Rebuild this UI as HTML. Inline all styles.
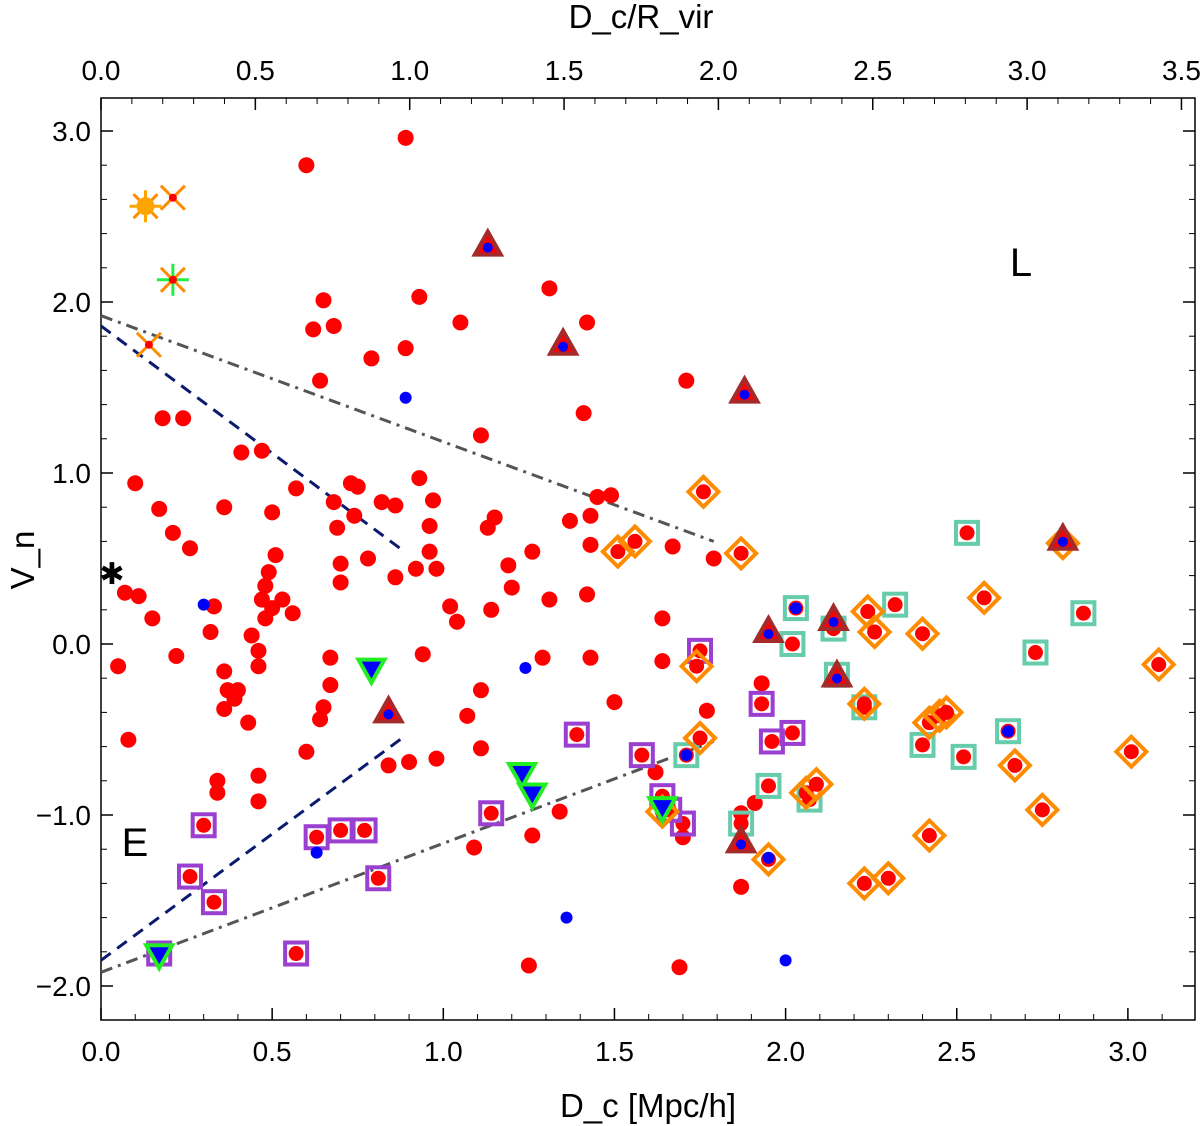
<!DOCTYPE html>
<html><head><meta charset="utf-8"><style>
html,body{margin:0;padding:0;background:#fff;}
svg{display:block;font-family:"Liberation Sans",Arial,sans-serif;}
</style></head><body>
<svg id="chart" width="1200" height="1126" viewBox="0 0 1200 1126" xmlns="http://www.w3.org/2000/svg"></svg>
<script>
const xTicks=[0,0.5,1.0,1.5,2.0,2.5,3.0];
const yTicks=[-2,-1,0,1,2,3];
const topTicks=[0,0.5,1.0,1.5,2.0,2.5,3.0,3.5];
const redX=[0.60,0.89,0.65,0.62,0.68,0.64,0.79,0.89,0.93,1.05,1.11,1.31,1.42,1.41,1.71,0.10,0.18,0.24,0.17,0.21,0.26,0.36,0.41,0.47,0.50,0.57,0.68,0.73,0.75,0.74,0.82,0.86,0.93,0.97,0.96,1.15,1.13,0.96,0.98,1.02,1.04,1.14,1.19,1.20,1.26,1.31,1.37,1.43,1.45,1.43,1.42,1.43,1.67,1.79,1.64,0.07,0.11,0.15,0.05,0.08,0.22,0.33,0.32,0.36,0.36,0.39,0.43,0.37,0.44,0.47,0.48,0.49,0.48,0.50,0.51,0.53,0.56,0.46,0.46,0.40,0.46,0.46,0.34,0.34,0.60,0.65,0.64,0.67,0.67,0.70,0.70,0.69,0.78,0.84,0.90,0.86,0.92,0.94,0.98,1.07,1.11,1.11,1.09,1.25,1.26,1.29,1.34,1.50,1.62,1.64,1.69,1.70,1.77,1.87,1.87,1.91,1.93,1.49];
const redY=[2.80,2.96,2.01,1.84,1.86,1.54,1.67,1.73,2.03,1.88,1.22,2.08,1.88,1.35,1.54,0.94,1.32,1.32,0.79,0.65,0.56,0.80,1.12,1.13,0.77,0.91,0.83,0.94,0.92,0.75,0.83,0.81,0.97,0.84,0.69,0.74,0.68,0.54,0.44,0.22,0.13,0.20,0.46,0.33,0.54,0.26,0.72,0.75,0.86,0.58,0.29,-0.08,0.57,0.50,0.15,0.30,0.28,0.15,-0.13,-0.56,-0.07,0.22,0.07,-0.16,-0.38,-0.32,-0.46,-0.27,0.05,0.26,0.15,0.42,0.34,0.21,0.52,0.26,0.18,-0.04,-0.13,-0.27,-0.77,-0.92,-0.80,-0.87,-0.63,-0.37,-0.44,-0.08,-0.24,0.36,0.47,0.68,0.50,-0.71,-0.69,0.39,0.44,-0.06,-0.67,-0.42,-0.27,-0.61,-1.19,-1.88,-1.12,-0.08,-0.98,-0.34,-0.75,-0.10,-1.89,-1.13,-0.39,-0.99,-1.42,-0.93,-0.23,0.87];
const blueX=[0.89,0.30,1.24,1.36,0.63,1.95,2.00,2.65,2.03,1.71];
const blueY=[1.44,0.23,-0.14,-1.60,-1.22,-1.25,-1.85,-0.51,0.21,-0.65];
const purpleX=[0.30,0.26,0.33,0.17,0.57,0.63,0.70,0.77,0.81,1.39,1.14,1.58,1.64,1.70,1.75,1.93,1.96,2.02,1.66];
const purpleY=[-1.06,-1.36,-1.51,-1.81,-1.81,-1.13,-1.09,-1.09,-1.37,-0.53,-0.99,-0.65,-0.89,-1.05,-0.04,-0.35,-0.57,-0.52,-0.97];
const diamondX=[1.51,1.56,1.76,1.87,1.74,1.75,1.64,1.95,2.24,2.26,2.40,2.58,2.23,2.42,2.45,2.47,2.67,2.81,3.09,3.01,2.75,2.42,2.23,2.30,2.06,2.09];
const diamondY=[0.54,0.60,0.89,0.53,-0.13,-0.55,-0.98,-1.26,0.19,0.07,0.06,0.27,-0.35,-0.46,-0.42,-0.40,-0.71,0.59,-0.12,-0.63,-0.97,-1.12,-1.40,-1.37,-0.87,-0.82];
const tealX=[2.03,2.14,2.15,2.32,2.53,2.87,2.73,2.65,2.52,2.40,1.95,2.07,1.71,1.87,2.23,2.02];
const tealY=[0.21,0.09,-0.18,0.23,0.65,0.18,-0.05,-0.51,-0.66,-0.59,-0.83,-0.91,-0.65,-1.05,-0.37,0.00];
const triX=[1.13,1.35,1.88,1.95,0.84,1.87,2.81,2.14,2.15];
const triY=[2.33,1.75,1.47,0.07,-0.40,-1.16,0.61,0.14,-0.19];
const gtriX=[0.79,1.23,1.26,0.17,1.64];
const gtriY=[-0.15,-0.76,-0.88,-1.82,-0.96];
const starX=[0.13,0.21,0.14,0.21];
const starY=[2.56,2.61,1.75,2.13];
const grayLineX=[0,1.79]; const grayUpY=[1.92,0.60]; const grayLoY=[-1.92,-0.57];
const navyLineX=[0,0.88]; const navyUpY=[1.86,0.55]; const navyLoY=[-1.85,-0.55];

const L=101,R=1195,T=98,B=1020;
const sx=v=>L+v*342.3, sy=v=>644-v*171, tx=v=>L+v*308.7;
const svg=document.getElementById('chart');
const NS='http://www.w3.org/2000/svg';
function mk(tag,attrs,parent){const e=document.createElementNS(NS,tag);for(const k in attrs)e.setAttribute(k,attrs[k]);(parent||svg).appendChild(e);return e;}
function txt(s,x,y,size,anchor,parent){const e=mk('text',{x:x,y:y,'font-size':size,'text-anchor':anchor||'middle',fill:'#000'},parent);e.textContent=s;return e;}

const frame=mk('rect',{x:L,y:T,width:R-L,height:B-T,fill:'none',stroke:'#000','stroke-width':1.5});



const axes=mk('g',{});


xTicks.forEach(v=>{const x=sx(v);mk('line',{x1:x,y1:B,x2:x,y2:B-12,stroke:'#000','stroke-width':1.5},axes);
 const t=txt(v.toFixed(1),x,1061,28,'middle',axes);});
for(let v=0.1;v<3.2;v+=0.1){const x=sx(v);mk('line',{x1:x,y1:B,x2:x,y2:B-6,stroke:'#000','stroke-width':1},axes);}
topTicks.forEach(v=>{const x=tx(v);mk('line',{x1:x,y1:T,x2:x,y2:T+12,stroke:'#000','stroke-width':1.5},axes);
 const t=txt(v.toFixed(1),x,80,28,'middle',axes);});
for(let v=0.1;v<3.5;v+=0.1){const x=tx(v);mk('line',{x1:x,y1:T,x2:x,y2:T+6,stroke:'#000','stroke-width':1},axes);}
yTicks.forEach(v=>{const y=sy(v);mk('line',{x1:L,y1:y,x2:L+12,y2:y,stroke:'#000','stroke-width':1.5},axes);mk('line',{x1:R,y1:y,x2:R-12,y2:y,stroke:'#000','stroke-width':1.5},axes);
 const t=txt((v<0?'\u2212':'')+Math.abs(v).toFixed(1),91,y+10,28,'end',axes);});
for(let v=-2.2;v<3.3;v+=0.2){const y=sy(v);if(y<T||y>B)continue;mk('line',{x1:L,y1:y,x2:L+6,y2:y,stroke:'#000','stroke-width':1},axes);mk('line',{x1:R,y1:y,x2:R-6,y2:y,stroke:'#000','stroke-width':1},axes);}
let t=txt('D_c [Mpc/h]',648,1117,33);
t=txt('D_c/R_vir',641,28,33);
t=txt('V_n',0,0,33);t.setAttribute('transform','translate(34,560) rotate(-90)');
t=txt('L',1021,276,40);
t=txt('E',135,856,40);
t=txt('\u2731',112,584,30);

function line(xs,ys,color,dash,name){const l=mk('line',{x1:sx(xs[0]),y1:sy(ys[0]),x2:sx(xs[1]),y2:sy(ys[1]),stroke:color,'stroke-width':3,'stroke-dasharray':dash});
 
 }
line(grayLineX,grayUpY,'#555','12,6,3,6','gray-upper-line');
line(grayLineX,grayLoY,'#555','12,6,3,6','gray-lower-line');
line(navyLineX,navyUpY,'#0a1a6e','12,8','navy-upper-line');
line(navyLineX,navyLoY,'#0a1a6e','12,8','navy-lower-line');

redX.forEach((x,i)=>{const c=mk('circle',{cx:sx(x),cy:sy(redY[i]),r:8,fill:'#f00'});
 
 });
purpleX.forEach((x,i)=>{const X=sx(x),Y=sy(purpleY[i]);const g=mk('g',{});
 
 
 mk('rect',{x:X-11,y:Y-11,width:22,height:22,fill:'none',stroke:'#9a3fcf','stroke-width':4},g);
 mk('circle',{cx:X,cy:Y,r:7.5,fill:'#f00'},g);});
tealX.forEach((x,i)=>{const X=sx(x),Y=sy(tealY[i]);const g=mk('g',{});
 
 
 mk('rect',{x:X-11,y:Y-11,width:22,height:22,fill:'none',stroke:'#66ccaa','stroke-width':4},g);
 mk('circle',{cx:X,cy:Y,r:7.5,fill:'#f00'},g);});
diamondX.forEach((x,i)=>{const X=sx(x),Y=sy(diamondY[i]);const g=mk('g',{});
 
 
 mk('polygon',{points:`${X},${Y-15} ${X+15},${Y} ${X},${Y+15} ${X-15},${Y}`,fill:'none',stroke:'#ff8c00','stroke-width':4},g);
 mk('circle',{cx:X,cy:Y,r:7.5,fill:'#f00'},g);});
triX.forEach((x,i)=>{const X=sx(x),Y=sy(triY[i]);const g=mk('g',{});
 
 
 mk('polygon',{points:`${X},${Y-14} ${X+13},${Y+9} ${X-13},${Y+9}`,fill:'#f00',stroke:'#a52a2a','stroke-width':4},g);
 mk('circle',{cx:X,cy:Y+2,r:5,fill:'#00f'},g);});
gtriX.forEach((x,i)=>{const X=sx(x),Y=sy(gtriY[i]);const g=mk('g',{});
 
 
 mk('polygon',{points:`${X-13},${Y-10} ${X+13},${Y-10} ${X},${Y+13}`,fill:'#00f',stroke:'#22ee22','stroke-width':4},g);});
blueX.forEach((x,i)=>{const c=mk('circle',{cx:sx(x),cy:sy(blueY[i]),r:6,fill:'#00f'});
 
 });
const starCol=['#ffa500','#ff8c00','#ff8c00','#22ee44'];
starX.forEach((x,i)=>{const X=sx(x),Y=sy(starY[i]);const g=mk('g',{});
 
 
 const s=12;
 mk('line',{x1:X-s,y1:Y-s,x2:X+s,y2:Y+s,stroke:'#ff8c00','stroke-width':3},g);
 mk('line',{x1:X-s,y1:Y+s,x2:X+s,y2:Y-s,stroke:'#ff8c00','stroke-width':3},g);
 if(i===0||i===3){mk('line',{x1:X-16,y1:Y,x2:X+16,y2:Y,stroke:starCol[i],'stroke-width':3},g);mk('line',{x1:X,y1:Y-16,x2:X,y2:Y+16,stroke:starCol[i],'stroke-width':3},g);}
 mk('circle',{cx:X,cy:Y,r:i===0?9:4,fill:i===0?'#ffa500':'#f00'},g);});
</script>
</body></html>
